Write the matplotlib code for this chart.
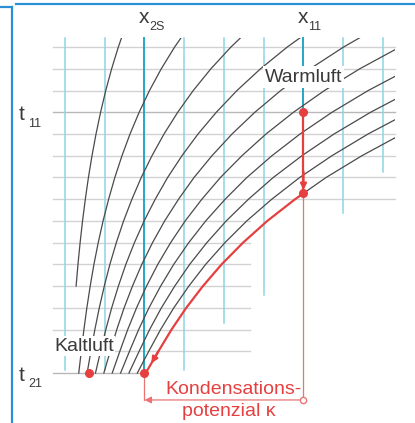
import numpy as np
import matplotlib.pyplot as plt
from matplotlib.patches import Rectangle

plt.rcParams['font.family'] = ['Liberation Sans', 'DejaVu Sans']

# Temperaturstufen (Gitter) und Sättigungs-Wassergehalt je Stufe
t_levels = np.arange(17)
x_sat = [2.03, 2.35, 2.68, 3.05, 3.47, 3.94, 4.48, 5.09, 5.79,
         6.57, 7.47, 8.48, 9.63, 10.93, 12.41, 14.09, 15.99]
x_conv = -0.075          # dort laufen die phi-Linien zusammen
phi = [0.1, 0.2, 0.3, 0.4, 0.5, 0.6, 0.7, 0.8, 0.9]
phi_start = [4, 0, 0, 0, 0, 0, 0, 0, 0]

# Gitterlinien x = const
x_lines = [0, 1, 2, 3, 4, 5, 6, 7, 8]
x_line_bottom = [0.14, 0.14, 0.0, 0.14, 2.3, 3.59, 12.0, 7.36, 9.25]
grid_top = 15.42
grid_right = 8.30
# Gitterlinien t = const (rechtes Ende je Stufe)
t_line_left = -0.30
t_line_right = [2.0, 4.65, 4.65, 4.65, 4.65, 4.65, 4.65, 4.65,
                8.30, 8.30, 8.30, 8.30, 8.30, 8.30, 8.30, 8.30]

# Zustände
x_2S, x_11 = 2, 6
t_21, t_11 = 0, 12
x_kalt = 0.6
t_kappa = -1.24

red = '#e5403f'
red_thin = '#e87473'
grey_txt = '#3a3a3a'

fig = plt.figure(figsize=(4.15, 4.23), dpi=100)
ax = fig.add_axes([0, 0, 1, 1])
ax.set_xlim(-1.635, 8.805)
ax.set_ylim(-2.30, 17.165)
ax.axis('off')

# 1. Gitter
for i, xr in enumerate(t_line_right):
    c = '#b8b8b8' if i in (t_21, t_11) else '#d2d2d2'
    ax.plot([t_line_left, xr], [i, i], color=c, lw=1.0, zorder=1)

for xv, yb in zip(x_lines, x_line_bottom):
    if xv in (x_2S, x_11):
        ax.plot([xv, xv], [yb, grid_top], color='#22a8c5', lw=1.4, zorder=1.5)
    else:
        ax.plot([xv, xv], [yb, grid_top], color='#8dd5e3', lw=1.1, zorder=1.5)

# 2. Linien konstanter relativer Feuchte
clip = Rectangle((-1.0, -0.5), grid_right + 1.0, grid_top + 0.5,
                 transform=ax.transData, visible=False)
ax.add_patch(clip)
xs = np.array(x_sat)
for p, s in zip(phi, phi_start):
    xc = x_conv + p * (xs - x_conv)
    ln, = ax.plot(xc[s:], t_levels[s:], color='#4a4a4a', lw=0.9, zorder=2)
    ln.set_clip_path(clip)

# Sättigungslinie: schwarz oberhalb von x_11, rot darunter
t_sat = np.interp(x_11, xs, t_levels)
upper = t_levels > t_sat
ln, = ax.plot(np.r_[x_11, xs[upper]], np.r_[t_sat, t_levels[upper]],
              color='#4a4a4a', lw=0.9, zorder=2)
ln.set_clip_path(clip)

lower = t_levels < t_sat
ax.plot(np.r_[x_11, xs[lower][::-1]], np.r_[t_sat, t_levels[lower][::-1]],
        color=red, lw=1.6, zorder=4)
tip = (xs[0] + 0.45 * (xs[1] - xs[0]), 0.45)
ax.annotate('', xy=tip, xytext=(xs[1], 1.0),
            arrowprops=dict(arrowstyle='-|>', color=red, lw=1.6,
                            mutation_scale=9, shrinkA=0, shrinkB=0), zorder=4)

# 3. Abkühlung Warmluft bis Sättigung
ax.plot([x_11, x_11], [t_11, t_sat], color=red, lw=1.6, zorder=4)
ax.annotate('', xy=(x_11, t_sat + 0.15), xytext=(x_11, t_sat + 1.0),
            arrowprops=dict(arrowstyle='-|>', color=red, lw=1.6,
                            mutation_scale=9, shrinkA=0, shrinkB=0), zorder=4)

# 4. Kondensationspotenzial
ax.plot([x_11, x_11], [t_sat, t_kappa], color=red_thin, lw=0.9, zorder=3)
ax.plot([x_2S, x_2S], [t_21, t_kappa], color=red_thin, lw=0.9, zorder=3)
ax.annotate('', xy=(x_2S, t_kappa), xytext=(x_11, t_kappa),
            arrowprops=dict(arrowstyle='-|>', color=red_thin, lw=0.9,
                            mutation_scale=10, shrinkA=0, shrinkB=0), zorder=3)
ax.plot(x_11, t_kappa, 'o', ms=4.5, mfc='white', mec=red_thin, mew=1.0, zorder=4)

# Zustandspunkte
ax.plot([x_11, x_11, x_2S, x_kalt], [t_11, t_sat, t_21, t_21], 'o',
        color=red, ms=5.5, zorder=5)

# 5. Beschriftung
ax.text(x_11, 13.62, 'Warmluft', fontsize=14, color=grey_txt,
        ha='center', va='center', zorder=6,
        bbox=dict(facecolor='white', edgecolor='none', pad=1.5))
ax.text(x_kalt - 0.12, 1.24, 'Kaltluft', fontsize=14, color=grey_txt,
        ha='center', va='center', zorder=6,
        bbox=dict(facecolor='white', edgecolor='none', pad=1.0))
ax.text(4.23, -0.74, 'Kondensations-', fontsize=14, color=red,
        ha='center', va='center', zorder=6)
ax.text(4.13, -1.75, 'potenzial \u03ba', fontsize=14, color=red,
        ha='center', va='center', zorder=6)

for xv, sub in ((x_2S, '2S'), (x_11, '11')):
    ax.text(xv - 0.02, 16.1, 'x', fontsize=15, color=grey_txt,
            ha='center', va='baseline')
    ax.text(xv + 0.12, 15.78, sub, fontsize=9, color=grey_txt,
            ha='left', va='baseline')

for tv, sub, dy in ((t_11, '11', 0.0), (t_21, '21', 0.0)):
    ax.text(-1.08, tv - 0.35 + dy, 't', fontsize=15, color=grey_txt,
            ha='center', va='baseline')
    ax.text(-0.92, tv - 0.66 + dy, sub, fontsize=9, color=grey_txt,
            ha='left', va='baseline')

# 6. Rahmenlinien
blue = '#2b8fd4'
ax.plot([0.029, 0.029], [0.0, 0.9835], color=blue, lw=1.6, transform=ax.transAxes)
ax.plot([0.0, 0.029], [0.9835, 0.9835], color=blue, lw=1.6, transform=ax.transAxes)
ax.plot([0.0386, 1.0], [0.9905, 0.9905], color=blue, lw=1.6, transform=ax.transAxes)

fig.savefig('out.png', dpi=100)
